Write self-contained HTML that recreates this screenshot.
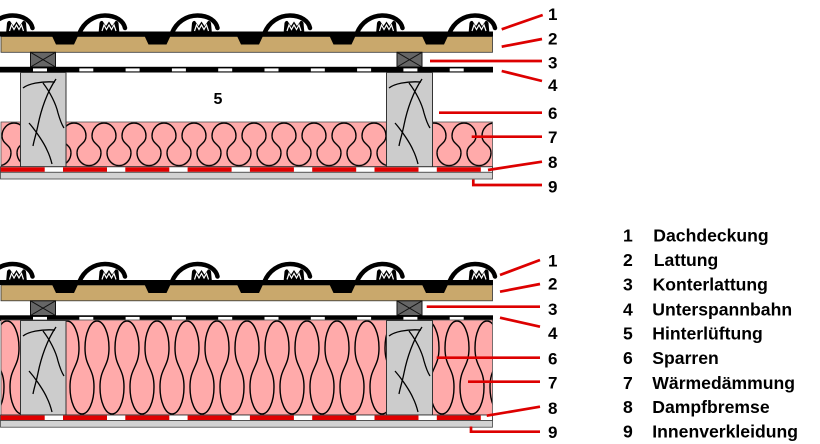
<!DOCTYPE html>
<html><head><meta charset="utf-8"><style>
html,body{margin:0;padding:0;background:#fff;}
svg{display:block;}
text{font-family:"Liberation Sans",Arial,sans-serif;font-weight:bold;fill:#000;}
</style></head><body>
<svg width="820" height="444" viewBox="0 0 820 444" xmlns="http://www.w3.org/2000/svg">
<defs>
 <pattern id="insT" patternUnits="userSpaceOnUse" x="89" y="122" width="30" height="44.7">
  <g fill="none" stroke="#000" stroke-width="1.4">
   <path d="M3,14 A12,13 0 0 1 27,14"/>
   <path d="M27,14 C27,22.35 18,22.35 18,30.7"/>
   <path d="M3,14 C3,22.35 12,22.35 12,30.7"/>
   <path d="M18,30.7 A12,13 0 0 0 42,30.7"/>
   <path d="M-12,30.7 A12,13 0 0 0 12,30.7"/>
  </g>
 </pattern>
 <pattern id="insB" patternUnits="userSpaceOnUse" x="82" y="320" width="30" height="95">
  <g fill="none" stroke="#000" stroke-width="1.4">
   <path d="M3,28 A12,27 0 0 1 27,28"/>
   <path d="M27,28 C27,47.5 18,47.5 18,67"/>
   <path d="M3,28 C3,47.5 12,47.5 12,67"/>
   <path d="M18,67 A12,27 0 0 0 42,67"/>
   <path d="M-12,67 A12,27 0 0 0 12,67"/>
  </g>
 </pattern>
 <g id="tile">
  <polygon points="-26,36 -22,44.5 -4,44.5 0,36" fill="#000"/>
  <path d="M1.5,33 C6,22 16,15.5 27,15.5 C38,15.5 45.5,21 47,28" fill="none" stroke="#000" stroke-width="4.5" stroke-linecap="round"/>
  <path d="M20.5,34 L21.5,23 Q22.5,20.5 24.5,21 L28,26 L31,21.5 L34,26 L37.5,21 Q39.5,20.5 40.5,23 L41.5,34 Z" fill="#000"/>
  <polyline points="24,31 26,25 28.5,29.5 31,25 33.5,29.5 36,25 38,31" fill="none" stroke="#fff" stroke-width="1.2"/>
 </g>
 <g id="cb">
  <rect x="0" y="0" width="25" height="14.7" fill="#666" stroke="#111" stroke-width="1"/>
  <line x1="0" y1="0" x2="25" y2="14.7" stroke="#111" stroke-width="1"/>
  <line x1="25" y1="0" x2="0" y2="14.7" stroke="#111" stroke-width="1"/>
 </g>
 <g id="roof">
  <rect x="1" y="36.5" width="491.5" height="15.8" fill="#c9a86c" stroke="#333" stroke-width="0.8"/>
  <rect x="0" y="31.5" width="493" height="5" fill="#000"/>
  <use href="#tile" x="-14.5"/>
  <use href="#tile" x="78"/>
  <use href="#tile" x="170.5"/>
  <use href="#tile" x="263"/>
  <use href="#tile" x="355.5"/>
  <use href="#tile" x="448"/>
  <use href="#cb" x="30.5" y="52.3"/>
  <use href="#cb" x="397" y="52.3"/>
  <rect x="0" y="66.8" width="493" height="5.7" fill="#000"/>
  <g fill="#fff">
   <rect x="33" y="68.4" width="14" height="3"/>
   <rect x="79.3" y="68.4" width="14" height="3"/>
   <rect x="125.6" y="68.4" width="14" height="3"/>
   <rect x="171.9" y="68.4" width="14" height="3"/>
   <rect x="218.2" y="68.4" width="14" height="3"/>
   <rect x="264.5" y="68.4" width="14" height="3"/>
   <rect x="310.8" y="68.4" width="14" height="3"/>
   <rect x="357.1" y="68.4" width="14" height="3"/>
   <rect x="403.4" y="68.4" width="14" height="3"/>
   <rect x="449.7" y="68.4" width="14" height="3"/>
  </g>
 </g>
 <g id="grain" fill="none" stroke="#000" stroke-width="1.3">
  <path d="M23,88 C28,84 40,81 55,82"/>
  <path d="M56,79 C47,92 41,110 38,125 C36,135 34,140 33,146"/>
  <path d="M43,83 C50,92 56,104 58,113 C60,120 62,125 64,128"/>
  <path d="M29,123 C36,131 44,143 47,150 C50,156 51,160 52,164"/>
 </g>
 <g id="vb">
  <rect x="0.5" y="0" width="492" height="5.5" fill="#fff" stroke="#222" stroke-width="0.8"/>
  <g fill="#e00000">
   <rect x="0.7" y="0.5" width="44" height="4.5"/>
   <rect x="63" y="0.5" width="44" height="4.5"/>
   <rect x="125.3" y="0.5" width="44" height="4.5"/>
   <rect x="187.6" y="0.5" width="44" height="4.5"/>
   <rect x="249.9" y="0.5" width="44" height="4.5"/>
   <rect x="312.2" y="0.5" width="44" height="4.5"/>
   <rect x="374.5" y="0.5" width="44" height="4.5"/>
   <rect x="436.8" y="0.5" width="44" height="4.5"/>
  </g>
  <rect x="0.5" y="5.5" width="492" height="6.7" fill="#d2d2d2" stroke="#444" stroke-width="0.8"/>
 </g>
</defs>

<!-- TOP DIAGRAM -->
<use href="#roof"/>
<rect x="1" y="122" width="491.5" height="44.7" fill="#ffaaaa"/>
<rect x="1" y="122" width="491.5" height="44.7" fill="url(#insT)" stroke="#555" stroke-width="0.8"/>
<rect x="20.5" y="72.5" width="45.5" height="94.3" fill="#cccccc" stroke="#333" stroke-width="1"/>
<rect x="386.5" y="72.5" width="46" height="94.3" fill="#cccccc" stroke="#333" stroke-width="1"/>
<use href="#grain"/>
<use href="#grain" x="366"/>
<use href="#vb" y="166.8"/>
<text x="218" y="104" text-anchor="middle" font-size="16">5</text>

<!-- BOTTOM DIAGRAM -->
<use href="#roof" y="248.5"/>
<rect x="1" y="320" width="491.5" height="95" fill="#ffaaaa"/>
<rect x="1" y="320" width="491.5" height="95" fill="url(#insB)" stroke="#555" stroke-width="0.8"/>
<rect x="20.5" y="320.5" width="45.5" height="94.5" fill="#cccccc" stroke="#333" stroke-width="1"/>
<rect x="386.5" y="320.5" width="46" height="94.5" fill="#cccccc" stroke="#333" stroke-width="1"/>
<use href="#grain" y="248"/>
<use href="#grain" x="366" y="248"/>
<use href="#vb" y="415"/>

<!-- leader lines -->
<g stroke="#dd0000" stroke-width="2.7" fill="none">
 <line x1="501.7" y1="29.3" x2="542.7" y2="15"/>
 <line x1="501.7" y1="46.7" x2="542" y2="39"/>
 <line x1="430" y1="61" x2="542" y2="61"/>
 <line x1="501.7" y1="71" x2="542" y2="81"/>
 <line x1="439" y1="112.7" x2="542" y2="112.7"/>
 <line x1="471.7" y1="136.7" x2="542" y2="136.7"/>
 <line x1="488" y1="170" x2="542" y2="161.7"/>
 <polyline points="473.3,179.5 473.3,185 542,185"/>

 <line x1="500" y1="275" x2="540" y2="260"/>
 <line x1="500" y1="291.7" x2="540" y2="284"/>
 <line x1="426.7" y1="306.7" x2="540" y2="306.7"/>
 <line x1="500" y1="317.7" x2="540" y2="326.7"/>
 <line x1="436.7" y1="357.7" x2="540" y2="357.7"/>
 <line x1="468" y1="381.7" x2="540" y2="381.7"/>
 <line x1="486.7" y1="415.7" x2="540" y2="406.7"/>
 <polyline points="471,426.5 471,431.7 540,431.7"/>
</g>

<!-- diagram labels -->
<g font-size="17">
 <text x="548" y="20">1</text>
 <text x="548" y="44.5">2</text>
 <text x="548" y="68.5">3</text>
 <text x="548" y="91">4</text>
 <text x="548" y="119">6</text>
 <text x="548" y="143">7</text>
 <text x="548" y="168">8</text>
 <text x="548" y="192.5">9</text>

 <text x="548" y="266.5">1</text>
 <text x="548" y="289.5">2</text>
 <text x="548" y="315">3</text>
 <text x="548" y="339">4</text>
 <text x="548" y="364.5">6</text>
 <text x="548" y="388.5">7</text>
 <text x="548" y="414">8</text>
 <text x="548" y="438">9</text>
</g>

<!-- legend -->
<g font-size="17.6">
 <text x="623" y="241.5">1</text><text x="653.3" y="241.5">Dachdeckung</text>
 <text x="623" y="265.8">2</text><text x="653.8" y="265.8">Lattung</text>
 <text x="623" y="290.6">3</text><text x="652.6" y="290.6">Konterlattung</text>
 <text x="623" y="315.6">4</text><text x="652.3" y="315.6">Unterspannbahn</text>
 <text x="623" y="339.6">5</text><text x="652.3" y="339.6">Hinterlüftung</text>
 <text x="623" y="364">6</text><text x="652.3" y="364">Sparren</text>
 <text x="623" y="389">7</text><text x="652.3" y="389">Wärmedämmung</text>
 <text x="623" y="413">8</text><text x="652.3" y="413">Dampfbremse</text>
 <text x="623" y="437.3">9</text><text x="652.3" y="437.3">Innenverkleidung</text>
</g>
</svg>
</body></html>
